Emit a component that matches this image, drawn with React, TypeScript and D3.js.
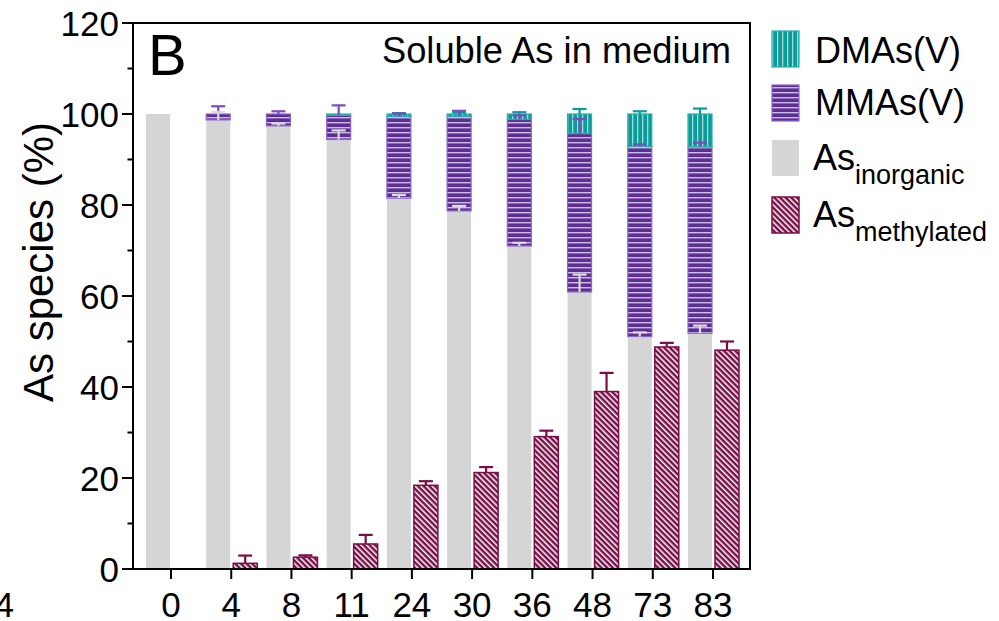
import React from "react";
import * as d3 from "d3";

const days = ["0", "4", "8", "11", "24", "30", "36", "48", "73", "83"];
const inorganic = [100, 98.7, 97.4, 94.4, 81.5, 78.7, 71.0, 60.9, 51.1, 51.8];
const inorganicErr = [0, 1.7, 0.5, 2.0, 0.7, 1.1, 0.7, 3.8, 0.9, 1.7];
const mma = [0, 1.3, 2.6, 5.3, 18.0, 20.8, 27.8, 34.8, 41.8, 41.0];
const mmaErr = [0, 1.7, 0.6, 2.2, 0.6, 1.2, 0.9, 3.2, 0.4, 0.9];
const dma = [0, 0, 0, 0.3, 0.5, 0.5, 1.2, 4.3, 7.1, 7.2];
const dmaErr = [0, 0, 0, 0, 0.2, 0.3, 0.4, 1.1, 0.6, 1.2];
const methylated = [0, 1.25, 2.6, 5.5, 18.4, 21.2, 29.1, 39.0, 48.8, 48.1];
const methylatedErr = [0, 1.7, 0.4, 2.0, 0.9, 1.2, 1.3, 4.1, 0.9, 1.9];
const yTicks = [0, 20, 40, 60, 80, 100, 120];
const yMinor = [10, 30, 50, 70, 90, 110];

const FONT = "'Liberation Sans', Arial, Helvetica, sans-serif";

const C = {
  grey: "#d5d5d5",
  greyErr: "#dcdcdc",
  purple: "#5e2f93",
  purpleLine: "#cdbde6",
  purpleBorder: "#8c66c8",
  purpleErr: "#7d4bbb",
  teal: "#0b9c99",
  tealLine: "#9fdcd8",
  tealBorder: "#22b2ae",
  maroon: "#7a0d45",
};

export default function App() {
  const W = 999;
  const H = 621;
  const left = 133;
  const right = 750;
  const top = 23;
  const bottom = 569;

  const y = d3.scaleLinear().domain([0, 120]).range([bottom, top]);
  const x = d3.scalePoint<string>().domain(days).range([171, 713]);
  const bw = 24;

  const errBar = (cx: number, v: number, e: number, color: string, key: string) => {
    if (!e) return null;
    const y0 = y(v);
    const y1 = y(v + e);
    return (
      <g key={key} stroke={color} strokeWidth={2.2}>
        <line x1={cx} x2={cx} y1={y0} y2={y1} />
        <line x1={cx - 7} x2={cx + 7} y1={y1} y2={y1} />
      </g>
    );
  };

  return (
    <svg
      width={W}
      height={H}
      viewBox={`0 0 ${W} ${H}`}
      style={{ position: "absolute", left: 0, top: 0, background: "#fff" }}
      fontFamily={FONT}
    >
      <defs>
        <pattern id="pMMA" patternUnits="userSpaceOnUse" width={8} height={5}>
          <rect width={8} height={5} fill={C.purple} />
          <rect y={2} width={8} height={1.4} fill={C.purpleLine} />
        </pattern>
        <pattern id="pDMA" patternUnits="userSpaceOnUse" width={5} height={8}>
          <rect width={5} height={8} fill={C.teal} />
          <rect x={2} width={1.3} height={8} fill={C.tealLine} />
        </pattern>
        <pattern
          id="pMeth"
          patternUnits="userSpaceOnUse"
          width={4}
          height={8}
          patternTransform="rotate(-45)"
        >
          <rect width={4} height={8} fill={C.maroon} />
          <rect x={1} width={1.5} height={8} fill="#ffffff" />
        </pattern>
      </defs>

      {/* stacked bars */}
      {days.map((d, i) => {
        const cx = (x(d) as number) - 13;
        const x0 = cx - bw / 2;
        const inTop = inorganic[i];
        const mTop = inTop + mma[i];
        const dTop = mTop + dma[i];
        return (
          <g key={"s" + d}>
            <rect x={x0} width={bw} y={y(inTop)} height={y(0) - y(inTop)} fill={C.grey} />
            {mma[i] > 0 && (
              <rect
                x={x0}
                width={bw}
                y={y(mTop)}
                height={y(inTop) - y(mTop)}
                fill="url(#pMMA)"
                stroke={C.purpleBorder}
                strokeWidth={1.2}
              />
            )}
            {dma[i] > 0 && (
              <rect
                x={x0}
                width={bw}
                y={y(dTop)}
                height={y(mTop) - y(dTop)}
                fill="url(#pDMA)"
                stroke={C.tealBorder}
                strokeWidth={1.2}
              />
            )}
          </g>
        );
      })}

      {/* methylated bars */}
      {days.map((d, i) => {
        const cx = (x(d) as number) + 14;
        if (!methylated[i]) return null;
        return (
          <rect
            key={"m" + d}
            x={cx - bw / 2}
            width={bw}
            y={y(methylated[i])}
            height={y(0) - y(methylated[i])}
            fill="url(#pMeth)"
            stroke={C.maroon}
            strokeWidth={1.5}
          />
        );
      })}

      {/* error bars */}
      {days.map((d, i) => {
        const cs = (x(d) as number) - 13;
        const cm = (x(d) as number) + 14;
        return (
          <g key={"e" + d}>
            {errBar(cs, inorganic[i] + mma[i] + dma[i], dmaErr[i], C.teal, "de")}
            {errBar(cs, inorganic[i] + mma[i], mmaErr[i], C.purpleErr, "me")}
            {errBar(cs, inorganic[i], inorganicErr[i], C.greyErr, "ie")}
            {errBar(cm, methylated[i], methylatedErr[i], C.maroon, "te")}
          </g>
        );
      })}

      {/* frame and axes */}
      <g stroke="#000" strokeWidth={2} fill="none">
        <line x1={left} x2={left} y1={top - 1} y2={bottom + 1} />
        <line x1={left - 1} x2={right + 1} y1={bottom} y2={bottom} />
        <line x1={left} x2={right} y1={top} y2={top} />
        <line x1={right} x2={right} y1={top - 1} y2={bottom} />
        {yTicks.map((t) => (
          <line key={"yt" + t} x1={left - 11} x2={left} y1={y(t)} y2={y(t)} />
        ))}
        {yMinor.map((t) => (
          <line key={"ym" + t} x1={left - 5.5} x2={left} y1={y(t)} y2={y(t)} />
        ))}
        {days.map((d) => (
          <line key={"xt" + d} x1={x(d)} x2={x(d)} y1={bottom} y2={bottom + 10} />
        ))}
      </g>

      {yTicks.map((t) => (
        <text
          key={"yl" + t}
          x={119}
          y={y(t) + 12.5}
          textAnchor="end"
          fontSize={35}
          fill="#000"
        >
          {t}
        </text>
      ))}
      {days.map((d) => (
        <text key={"xl" + d} x={x(d)} y={617} textAnchor="middle" fontSize={35} fill="#000">
          {d}
        </text>
      ))}

      <text
        transform={`translate(53, 262) rotate(-90)`}
        textAnchor="middle"
        fontSize={42}
        fill="#000"
      >
        As species (%)
      </text>

      <text x={148} y={75} fontSize={58} fill="#000">
        B
      </text>
      <text x={731} y={63} textAnchor="end" fontSize={36.3} fill="#000">
        Soluble As in medium
      </text>

      {/* stray label from neighbouring panel */}
      <text x={14} y={617} textAnchor="end" fontSize={35} fill="#000">
        4
      </text>

      {/* legend */}
      <g>
        <rect x={772} y={31} width={27} height={36} fill="url(#pDMA)" stroke={C.tealBorder} strokeWidth={1.2} />
        <text x={815} y={63} fontSize={36} fill="#000">DMAs(V)</text>

        <rect x={772} y={85} width={27} height={36} fill="url(#pMMA)" stroke={C.purpleBorder} strokeWidth={1.2} />
        <text x={815} y={115} fontSize={36} fill="#000">MMAs(V)</text>

        <rect x={772} y={140} width={27} height={36} fill={C.grey} />
        <text x={813} y={170} fontSize={36} fill="#000">
          As
          <tspan fontSize={27} dy={14}>inorganic</tspan>
        </text>

        <rect x={772} y={197} width={27} height={36} fill="url(#pMeth)" stroke={C.maroon} strokeWidth={1.5} />
        <text x={813} y={227} fontSize={36} fill="#000">
          As
          <tspan fontSize={27} dy={14}>methylated</tspan>
        </text>
      </g>
    </svg>
  );
}
